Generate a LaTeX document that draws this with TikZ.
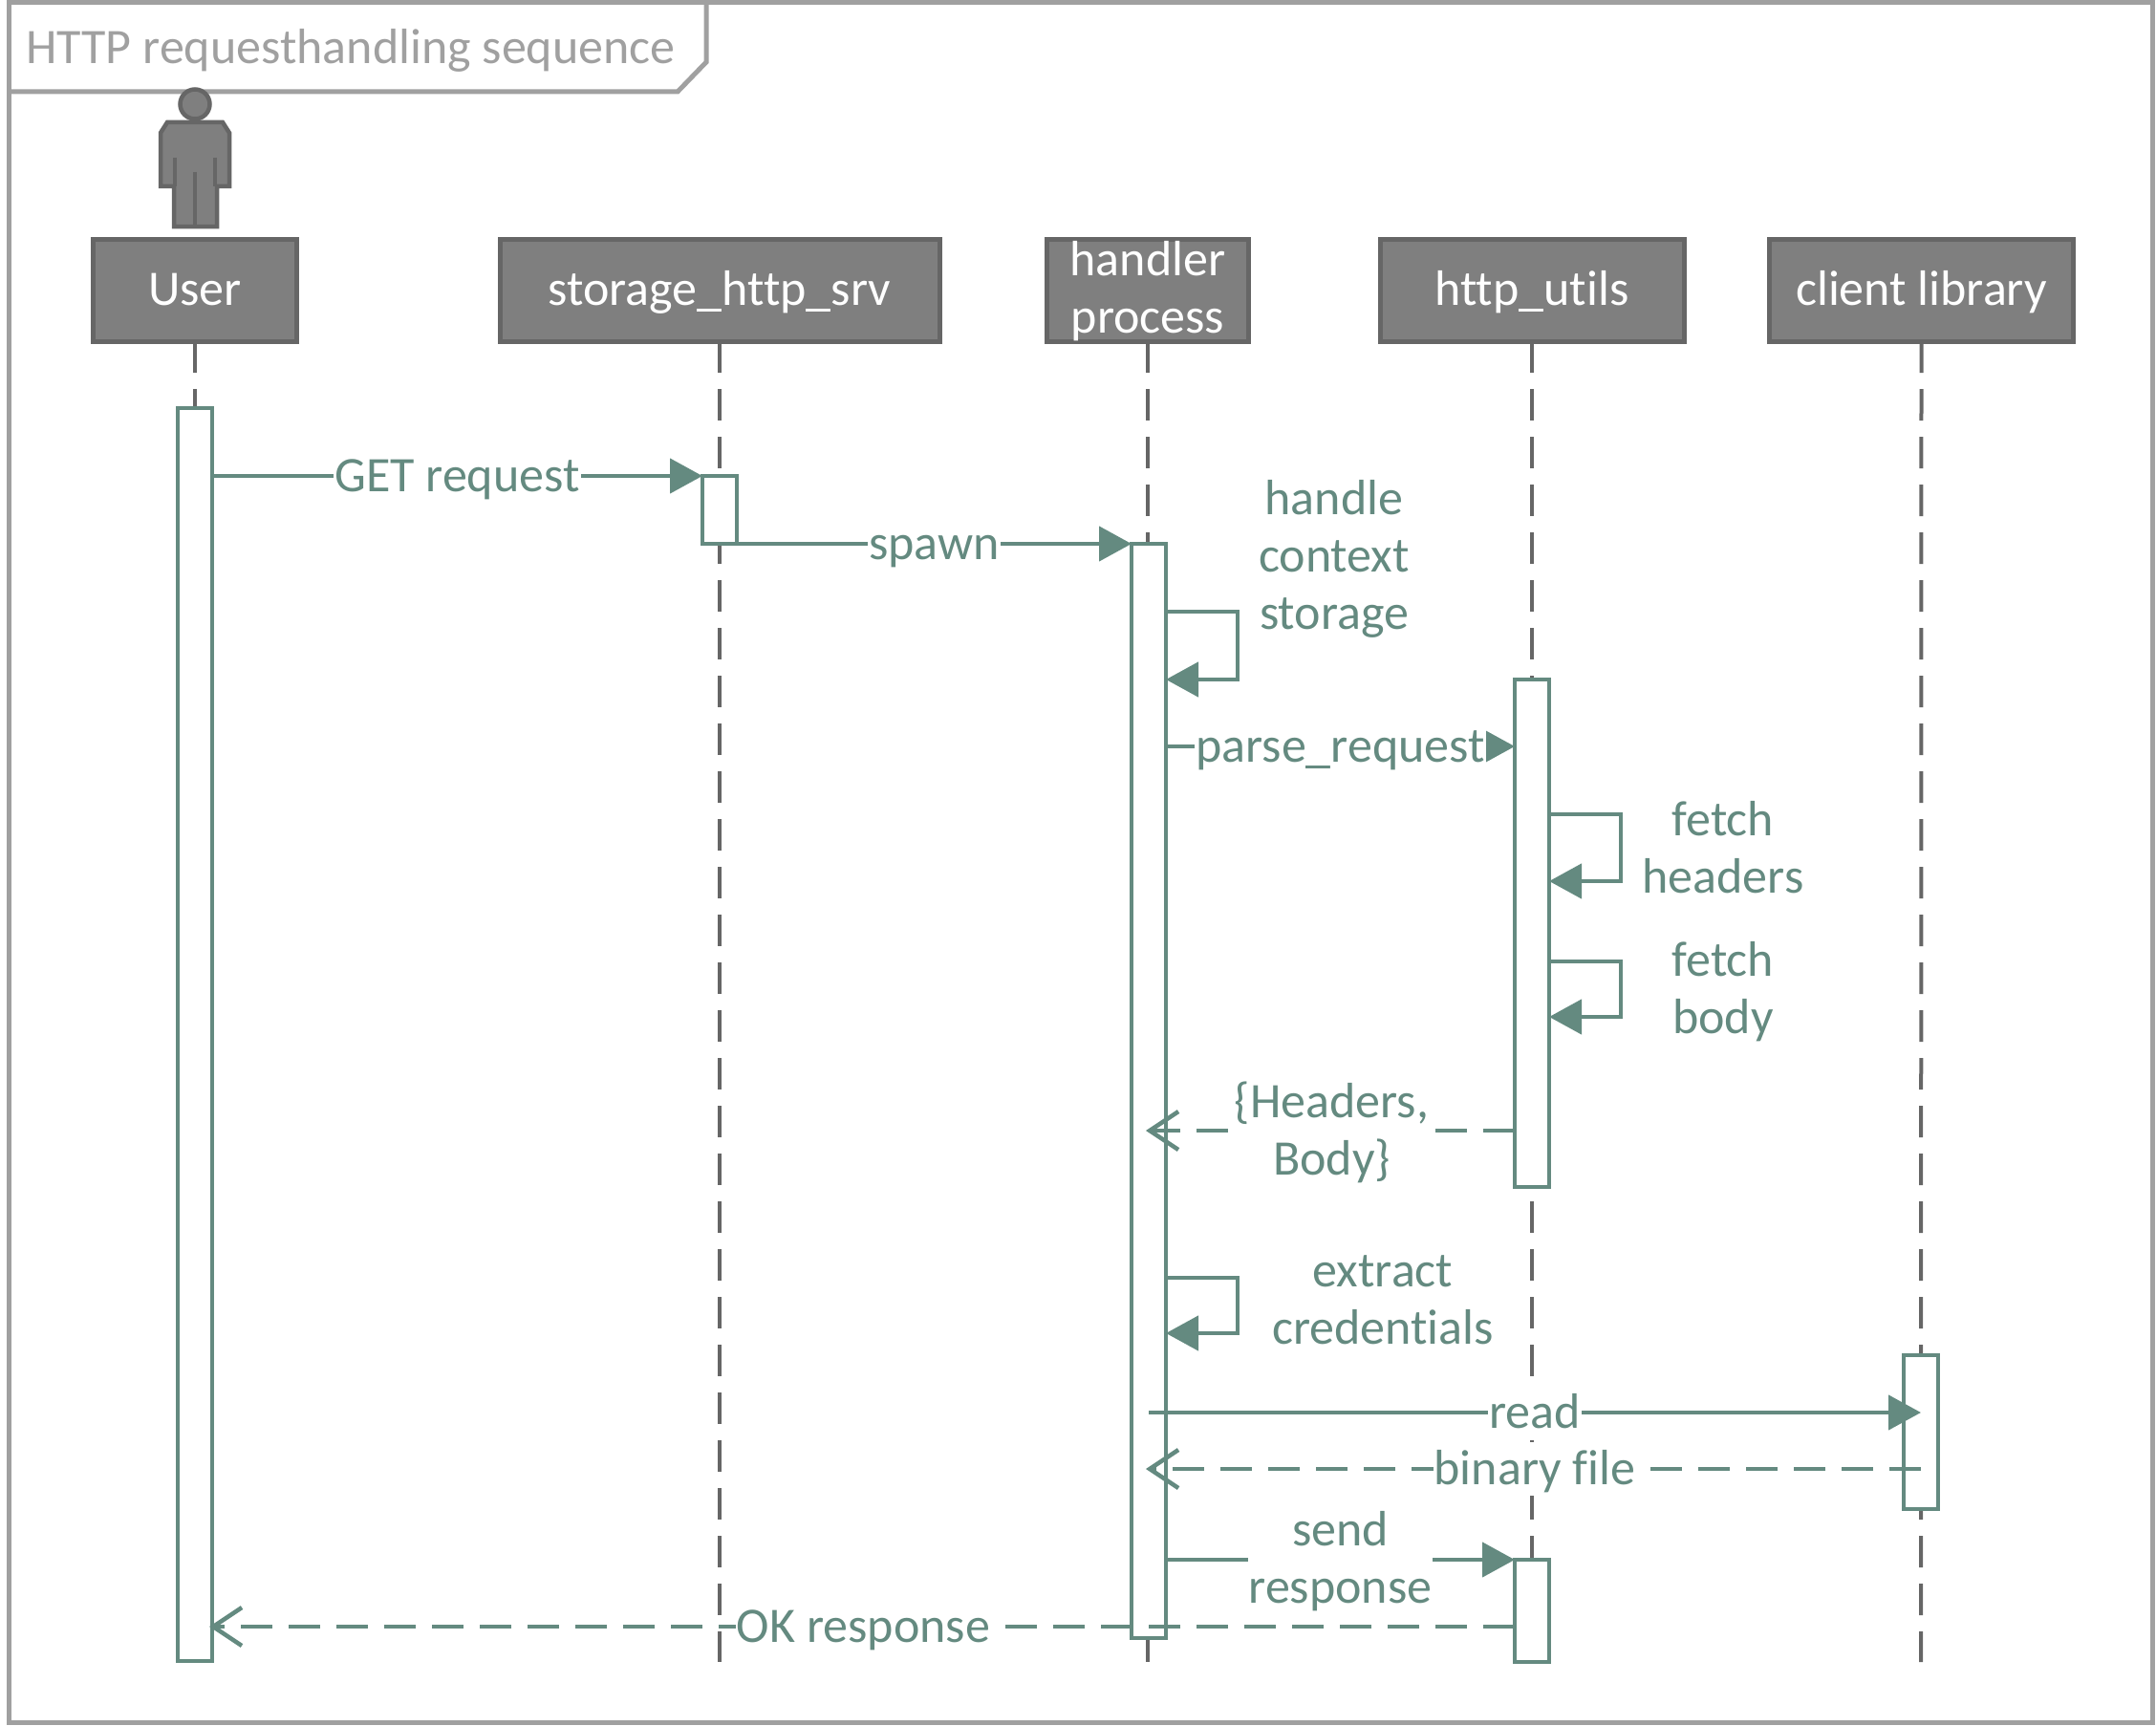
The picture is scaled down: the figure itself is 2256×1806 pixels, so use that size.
\documentclass[tikz,border=0pt]{standalone}
\usepackage{fontspec}
\setmainfont[Ligatures={NoCommon}]{Carlito}
\usetikzlibrary{arrows.meta}
\definecolor{teal1}{HTML}{648A80}
\definecolor{grayB}{HTML}{666666}
\definecolor{grayF}{HTML}{7F7F7F}
\definecolor{grayT}{HTML}{A0A0A0}
\newcommand{\lblfont}{\fontsize{52}{60}\selectfont}
\tikzset{
  headbox/.style={draw=grayB,fill=grayF,line width=5pt,inner sep=0pt,outer sep=0pt,minimum height=107pt,text=white,align=center,font=\lblfont},
  headone/.style={headbox,text height=43pt,text depth=12pt},
  headtext/.style={text=white,align=center,font=\lblfont,inner sep=0pt},
  actbox/.style={draw=teal1,fill=white,line width=4.5pt,inner sep=0pt,outer sep=0pt,minimum width=36pt},
  life/.style={draw=grayB,line width=4pt,dash pattern=on 33pt off 17pt},
  msg/.style={draw=teal1,line width=4.5pt,-{Triangle[length=34pt,width=36pt,fill=teal1]}},
  ret/.style={draw=teal1,line width=4.5pt,dash pattern=on 33pt off 17pt,shorten >=-3pt,-{Straight Barb[length=30pt,width=40pt]}},
  lbl/.style={fill=white,inner xsep=1pt,inner ysep=0pt,text=teal1,align=center,font=\lblfont,yshift=-2pt},
  lblone/.style={fill=white,inner xsep=1pt,inner ysep=0pt,text=teal1,font=\lblfont,text height=44pt,text depth=12pt},
  free/.style={text=teal1,align=center,font=\lblfont},
  framel/.style={draw=grayT,line width=5pt}
}
\begin{document}
\begin{tikzpicture}[x=1pt,y=-1pt]
\useasboundingbox (0,0) rectangle (2256,1806);
% frame
\draw[framel] (9,3) rectangle (2252,1802);
\draw[framel] (9,96) -- (709,96) -- (739,65) -- (739,3);
\node[anchor=west,text=grayT,inner sep=0pt,font=\lblfont] (title) at (27,52.5) {HTTP requesthandling sequence};
% actor
\draw[draw=grayB,fill=grayF,line width=4.5pt] (204,109) circle (15.5);
\draw[draw=grayB,fill=grayF,line width=4.5pt] (175,128) -- (233,128) -- (240,139) -- (240,195) -- (227,195) -- (227,237) -- (182,237) -- (182,195) -- (168,195) -- (168,139) -- cycle;
\draw[draw=grayB,line width=4.5pt] (183,165) -- (183,195) (225,165) -- (225,195) (204,180) -- (204,237);
% heads
\node[headone,minimum width=213pt] (uh) at (204,303.5) {User};
\node[headone,minimum width=460pt] (sh) at (753,303.5) {storage\_http\_srv};
\node[headbox,minimum width=211pt] (hh) at (1201,303.5) {};
\node[headtext] (hht) at (1201,305) {handler\\process};
\node[headone,minimum width=318pt] (th) at (1603,303.5) {http\_utils};
\node[headone,minimum width=318pt] (ch) at (2010.5,303.5) {client library};
% lifeline ends
\coordinate (ue) at (204,1739);
\coordinate (se) at (753,1739);
\coordinate (he) at (1201,1739);
\coordinate (te) at (1603,1739);
\coordinate (ce) at (2010,1739);
\draw[life] (uh.south) -- (ue);
\draw[life] (sh.south) -- (se);
\draw[life] (hh.south) -- (he);
\draw[life] (th.south) -- (te);
\draw[life] (ch.south) -- (ce);
% activations
\node[actbox,minimum height=1311pt] (ua) at (204,1082.5) {};
\node[actbox,minimum height=71pt] (sa) at (753,533.5) {};
\node[actbox,minimum height=1145pt] (ha) at (1202,1141.5) {};
\node[actbox,minimum height=531pt] (ta) at (1603,976.5) {};
\node[actbox,minimum height=161pt] (ca) at (2010,1498.5) {};
\node[actbox,minimum height=107pt] (tb) at (1603,1685.5) {};
% messages
\draw[msg] (ua.east |- 0,498) -- node[lblone] (m1) {GET request} (sa.north west);
\draw[msg] (sa.south east) -- node[lblone] (m2) {spawn} (ha.north west);
\draw[msg] (ha.east |- 0,640) -- (1295,640) -- (1295,711) -- (ha.east |- 0,711);
\node[free] (m3) at (1396,585) {handle\\context\\storage};
\draw[msg] (ha.east |- 0,781) -- node[lblone] (m4) {parse\_request} (ta.west |- 0,781);
\draw[msg] (ta.east |- 0,852) -- (1696,852) -- (1696,922) -- (ta.east |- 0,922);
\node[free] (m5) at (1803,887) {fetch\\headers};
\draw[msg] (ta.east |- 0,1006) -- (1696,1006) -- (1696,1064) -- (ta.east |- 0,1064);
\node[free] (m6) at (1803,1038) {fetch\\body};
\draw[ret] (ta.west |- 0,1183) -- node[lbl,pos=0.5] (m7) {\{Headers,\\Body\}} (ha.center |- 0,1183);
\draw[msg] (ha.east |- 0,1337) -- (1295,1337) -- (1295,1395) -- (ha.east |- 0,1395);
\node[free] (m8) at (1447,1360) {extract\\credentials};
\draw[msg] (ha.center |- 0,1478) -- node[lblone] (m9) {read} (ca.center |- 0,1478);
\draw[ret] (ca.center |- 0,1537) -- node[lblone] (m10) {binary file} (ha.center |- 0,1537);
\draw[msg] (ha.east |- 0,1632) -- node[lbl] (m11) {send\\response} (tb.north west);
\draw[ret] (tb.west |- 0,1702) -- node[lblone,pos=0.5] (m12) {OK response} (ua.east |- 0,1702);
\end{tikzpicture}
\end{document}
